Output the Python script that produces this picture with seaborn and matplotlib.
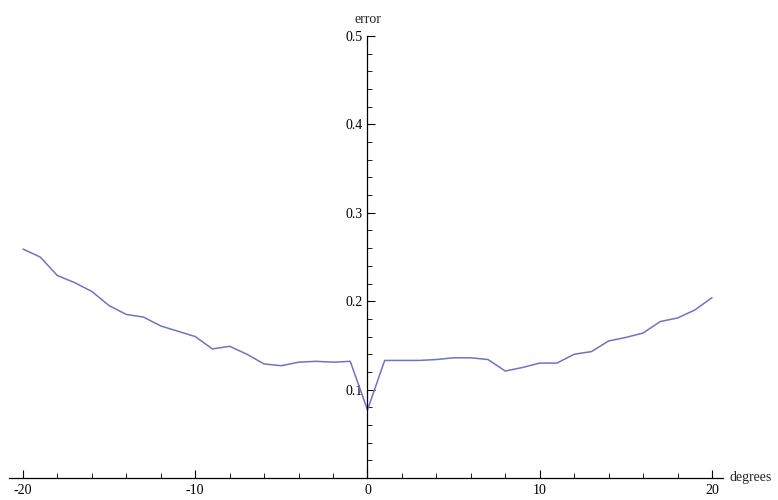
import numpy as np
import pandas as pd
import matplotlib
matplotlib.use('Agg')
import matplotlib.pyplot as plt
from matplotlib.ticker import MultipleLocator, FixedLocator
import seaborn as sns

degrees = list(range(-20, 21))
error = [0.259, 0.250, 0.229, 0.221, 0.211, 0.195, 0.185, 0.182, 0.172, 0.166,
         0.160, 0.146, 0.149, 0.140, 0.129, 0.127, 0.131, 0.132, 0.131, 0.132,
         0.077,
         0.133, 0.133, 0.133, 0.134, 0.136, 0.136, 0.134, 0.121, 0.125, 0.130,
         0.130, 0.140, 0.143, 0.155, 0.159, 0.164, 0.177, 0.181, 0.190, 0.204]
x_ticks = [-20, -10, 0, 10, 20]
y_ticks = [0.1, 0.2, 0.3, 0.4, 0.5]

df = pd.DataFrame({'degrees': degrees, 'error': error})

sns.set_style('white')
plt.rcParams['font.family'] = ['Liberation Serif', 'DejaVu Serif']
plt.rcParams['axes.unicode_minus'] = False

fig = plt.figure(figsize=(7.78, 5), dpi=100)
ax = fig.add_axes([9 / 778, 22 / 500, 714 / 778, 442 / 500])
sns.lineplot(data=df, x='degrees', y='error', color='#7272c2', linewidth=1.1, ax=ax)

ax.set_xlim(-20.81, 20.64)
ax.set_ylim(0, 0.5)

for s in ['top', 'right']:
    ax.spines[s].set_visible(False)
ax.spines['left'].set_position(('data', 0))
ax.spines['bottom'].set_position(('data', 0))
for s in ['left', 'bottom']:
    ax.spines[s].set_color('black')
    ax.spines[s].set_linewidth(0.9)

ax.xaxis.set_major_locator(FixedLocator(x_ticks))
ax.xaxis.set_minor_locator(MultipleLocator(2))
ax.yaxis.set_major_locator(FixedLocator(y_ticks))
ax.yaxis.set_minor_locator(MultipleLocator(0.02))
ax.set_xticklabels([str(t) for t in x_ticks])
ax.set_yticklabels([str(t) for t in y_ticks])

ax.tick_params(which='both', direction='in', labelsize=10, colors='black', bottom=True, left=True)
ax.tick_params(axis='x', pad=4.5)
ax.tick_params(axis='y', pad=3.5)
ax.tick_params(which='major', length=6, width=0.8)
ax.tick_params(which='minor', length=3.5, width=0.6)

ax.set_xlabel('')
ax.set_ylabel('')
ax.grid(False)

ax.text(0, 0.511, 'error', fontsize=10, ha='center', va='bottom')
ax.text(21.0, 0.0, 'degrees', fontsize=10, ha='left', va='center', clip_on=False)

fig.savefig('out.png', dpi=100)
